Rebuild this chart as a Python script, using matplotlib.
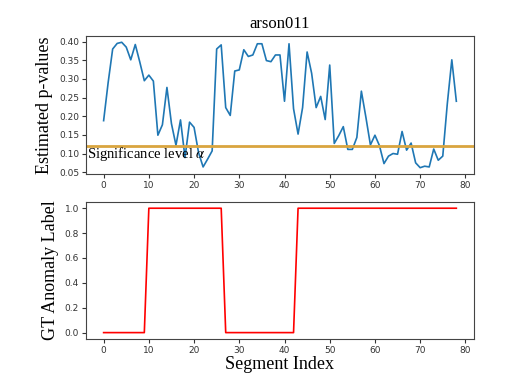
import matplotlib
matplotlib.use("Agg")
import matplotlib.pyplot as plt
from matplotlib.ticker import MultipleLocator, FormatStrFormatter
import numpy as np

title = "arson011"
pvalues = [0.188, 0.29, 0.38, 0.395, 0.398, 0.385, 0.351, 0.392, 0.345, 0.295,
           0.31, 0.294, 0.149, 0.177, 0.277, 0.18, 0.122, 0.19, 0.089, 0.184,
           0.17, 0.102, 0.064, 0.085, 0.107, 0.38, 0.391, 0.223, 0.202, 0.321,
           0.324, 0.378, 0.36, 0.364, 0.394, 0.394, 0.349, 0.346, 0.364, 0.364,
           0.24, 0.394, 0.22, 0.152, 0.223, 0.372, 0.315, 0.223, 0.253, 0.191,
           0.337, 0.127, 0.148, 0.172, 0.111, 0.111, 0.143, 0.267, 0.197, 0.123,
           0.149, 0.121, 0.073, 0.093, 0.1, 0.098, 0.159, 0.109, 0.128, 0.075,
           0.062, 0.066, 0.064, 0.112, 0.082, 0.093, 0.233, 0.351, 0.24]
labels = [0]*10 + [1]*17 + [0]*16 + [1]*36
alpha_level = 0.12
segments = np.arange(len(pvalues))

plt.rcParams['mathtext.fontset'] = 'stix'
serif = 'Liberation Serif'

fig = plt.figure(figsize=(5.18, 3.79), dpi=100)
ax1 = fig.add_axes([0.166, 0.541, 0.749, 0.364])
ax2 = fig.add_axes([0.166, 0.106, 0.749, 0.361])

ax1.plot(segments, pvalues, color='#1f77b4', linewidth=1.2)
ax1.axhline(alpha_level, color='#d9a53f', linewidth=2)
ax1.text(-3.6, 0.098, r'Significance level $\alpha$', family=serif, fontsize=10.5,
         va='center', ha='left')
ax1.set_title(title, family=serif, fontsize=12)
ax1.set_ylabel('Estimated p-values', family=serif, fontsize=13)
ax1.yaxis.set_major_locator(MultipleLocator(0.05))
ax1.yaxis.set_major_formatter(FormatStrFormatter('%.2f'))

ax2.plot(segments[:len(labels)], labels, color='red', linewidth=1.2)
ax2.set_ylabel('GT Anomaly Label', family=serif, fontsize=13)
ax2.set_xlabel('Segment Index', family=serif, fontsize=13, labelpad=1)

for ax in (ax1, ax2):
    ax.tick_params(labelsize=6.5, length=3, width=0.8, pad=2, colors='#333333')
    for s in ax.spines.values():
        s.set_color('#444444')
    ax.set_xticks([0, 10, 20, 30, 40, 50, 60, 70, 80])

fig.savefig('out.png', dpi=100)
